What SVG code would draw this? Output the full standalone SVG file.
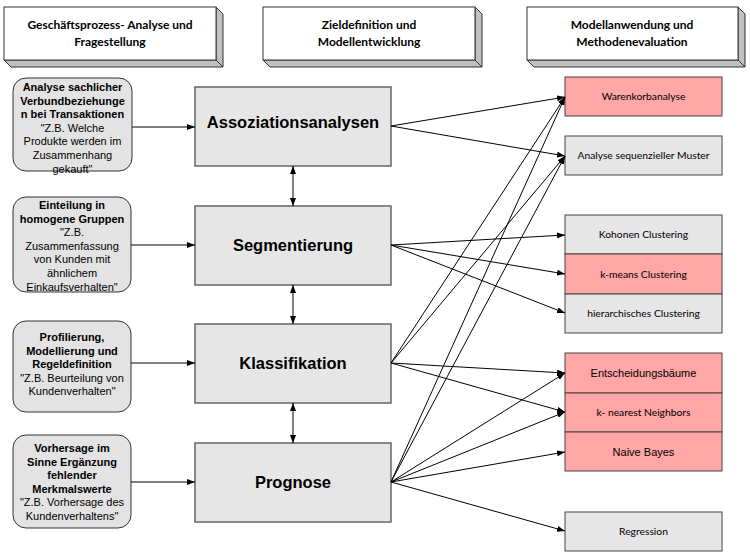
<svg xmlns="http://www.w3.org/2000/svg" width="750" height="558" viewBox="0 0 750 558">
<defs>
<marker id="ah" markerWidth="8" markerHeight="6" refX="8" refY="3" orient="auto-start-reverse" markerUnits="userSpaceOnUse">
<path d="M0,0 L8,3 L0,6 z" fill="#000"/>
</marker>
<style>
.hf{fill:#fff;stroke:#333;stroke-width:1}
.hs{fill:#c0c0c0;stroke:#333;stroke-width:1}
.ht{font-family:Lato,"Liberation Sans",sans-serif;font-weight:bold;font-size:12px;fill:#000;text-anchor:middle}
.lb{fill:#e3e3e3;stroke:#333;stroke-width:1}
.lt{font-family:"Liberation Sans",Arial,sans-serif;font-size:11px;fill:#000;text-anchor:middle}
.b{font-weight:bold}
.mb{fill:#e6e6e6;stroke:#666;stroke-width:1.5}
.mt{font-family:"Liberation Sans",Arial,sans-serif;font-weight:bold;font-size:16.5px;fill:#000;text-anchor:middle}
.rg{fill:#e6e6e6;stroke:#444;stroke-width:1}
.rp{fill:#ffa6a6;stroke:#444;stroke-width:1}
.rt{font-family:Lato,"Liberation Sans",sans-serif;font-size:10.3px;fill:#000;text-anchor:middle}
.ra{font-family:"Liberation Sans",Arial,sans-serif;font-size:11px;fill:#000;text-anchor:middle}
.c{stroke:#000;stroke-width:1;fill:none;marker-end:url(#ah)}
.d{stroke:#000;stroke-width:1;fill:none;marker-end:url(#ah);marker-start:url(#ah)}
</style>
</defs>
<rect width="750" height="558" fill="#fff"/>

<g id="header1">
<polygon class="hs" points="216,7 223,14 223,67 216,60"/>
<polygon class="hs" points="4,60 216,60 223,67 11,67"/>
<rect class="hf" x="4" y="7" width="212" height="53"/>
<text class="ht" x="110" y="29">Geschäftsprozess- Analyse und</text>
<text class="ht" x="110" y="46">Fragestellung</text>
</g>
<g id="header2">
<polygon class="hs" points="475,7 482,14 482,67 475,60"/>
<polygon class="hs" points="263,60 475,60 482,67 270,67"/>
<rect class="hf" x="263" y="7" width="212" height="53"/>
<text class="ht" x="369" y="29">Zieldefinition und</text>
<text class="ht" x="369" y="46">Modellentwicklung</text>
</g>
<g id="header3">
<polygon class="hs" points="738,7 745,14 745,67 738,60"/>
<polygon class="hs" points="527,60 738,60 745,67 534,67"/>
<rect class="hf" x="527" y="7" width="211" height="53"/>
<text class="ht" x="632" y="29">Modellanwendung und</text>
<text class="ht" x="632" y="46">Methodenevaluation</text>
</g>

<g id="left1">
<rect class="lb" x="13" y="78" width="119" height="93" rx="13"/>
<text class="lt" x="72.5" y="91"><tspan class="b">Analyse sachlicher</tspan><tspan class="b" x="72.5" dy="13.6">Verbundbeziehunge</tspan><tspan class="b" x="72.5" dy="13.6">n bei Transaktionen</tspan><tspan x="72.5" dy="13.6">"Z.B. Welche</tspan><tspan x="72.5" dy="13.6">Produkte werden im</tspan><tspan x="72.5" dy="13.6">Zusammenhang</tspan><tspan x="72.5" dy="13.6">gekauft"</tspan></text>
</g>
<g id="left2">
<rect class="lb" x="13" y="197" width="118" height="95" rx="13"/>
<text class="lt" x="72" y="209"><tspan class="b">Einteilung in</tspan><tspan class="b" x="72" dy="13.6">homogene Gruppen</tspan><tspan x="72" dy="13.6">"Z.B.</tspan><tspan x="72" dy="13.6">Zusammenfassung</tspan><tspan x="72" dy="13.6">von Kunden mit</tspan><tspan x="72" dy="13.6">ähnlichem</tspan><tspan x="72" dy="13.6">Einkaufsverhalten"</tspan></text>
</g>
<g id="left3">
<rect class="lb" x="13" y="321" width="118" height="91" rx="13"/>
<text class="lt" x="72" y="341"><tspan class="b">Profilierung,</tspan><tspan class="b" x="72" dy="13.6">Modellierung und</tspan><tspan class="b" x="72" dy="13.6">Regeldefinition</tspan><tspan x="72" dy="13.6">"Z.B. Beurteilung von</tspan><tspan x="72" dy="13.6">Kundenverhalten"</tspan></text>
</g>
<g id="left4">
<rect class="lb" x="13" y="435" width="118" height="93" rx="13"/>
<text class="lt" x="72" y="452"><tspan class="b">Vorhersage im</tspan><tspan class="b" x="72" dy="13.6">Sinne Ergänzung</tspan><tspan class="b" x="72" dy="13.6">fehlender</tspan><tspan class="b" x="72" dy="13.6">Merkmalswerte</tspan><tspan x="72" dy="13.6">"Z.B. Vorhersage des</tspan><tspan x="72" dy="13.6">Kundenverhaltens"</tspan></text>
</g>

<g id="assoziationsanalysen">
<rect class="mb" x="195" y="87" width="196" height="79"/>
<text class="mt" x="293" y="128">Assoziationsanalysen</text>
</g>
<g id="segmentierung">
<rect class="mb" x="195" y="206" width="196" height="79"/>
<text class="mt" x="293" y="251">Segmentierung</text>
</g>
<g id="klassifikation">
<rect class="mb" x="195" y="324" width="196" height="79"/>
<text class="mt" x="293" y="369">Klassifikation</text>
</g>
<g id="prognose">
<rect class="mb" x="195" y="443" width="196" height="79"/>
<text class="mt" x="293" y="488">Prognose</text>
</g>

<g id="warenkorbanalyse">
<rect class="rp" x="565" y="77" width="157" height="39"/>
<text class="rt" x="643.5" y="100">Warenkorbanalyse</text>
</g>
<g id="sequenz">
<rect class="rg" x="565" y="136" width="157" height="39"/>
<text class="rt" x="643.5" y="159">Analyse sequenzieller Muster</text>
</g>
<g id="kohonen">
<rect class="rg" x="565" y="215" width="157" height="39"/>
<text class="rt" x="643.5" y="238">Kohonen Clustering</text>
</g>
<g id="kmeans">
<rect class="rp" x="565" y="254" width="157" height="40"/>
<text class="rt" x="643.5" y="278">k-means Clustering</text>
</g>
<g id="hierarchisch">
<rect class="rg" x="565" y="294" width="157" height="39"/>
<text class="rt" x="643.5" y="317">hierarchisches Clustering</text>
</g>
<g id="entscheidungsbaeume">
<rect class="rp" x="565" y="353" width="157" height="40"/>
<text class="ra" x="643.5" y="377">Entscheidungsbäume</text>
</g>
<g id="knn">
<rect class="rp" x="565" y="393" width="157" height="39"/>
<text class="rt" x="643.5" y="416">k- nearest Neighbors</text>
</g>
<g id="naivebayes">
<rect class="rp" x="565" y="432" width="157" height="39"/>
<text class="ra" x="643.5" y="456">Naive Bayes</text>
</g>
<g id="regression">
<rect class="rg" x="565" y="512" width="157" height="39"/>
<text class="rt" x="643.5" y="535">Regression</text>
</g>

<g id="connectors">
<line class="c" x1="132" y1="127" x2="195" y2="127"/>
<line class="c" x1="131" y1="245" x2="195" y2="245"/>
<line class="c" x1="131" y1="363" x2="195" y2="363"/>
<line class="c" x1="131" y1="482" x2="195" y2="482"/>
<line class="d" x1="293" y1="166" x2="293" y2="206"/>
<line class="d" x1="293" y1="285" x2="293" y2="324"/>
<line class="d" x1="293" y1="403" x2="293" y2="443"/>
<line class="c" x1="391" y1="126" x2="565" y2="97"/>
<line class="c" x1="391" y1="126" x2="565" y2="156"/>
<line class="c" x1="391" y1="245" x2="565" y2="235"/>
<line class="c" x1="391" y1="245" x2="565" y2="274"/>
<line class="c" x1="391" y1="245" x2="565" y2="313"/>
<line class="c" x1="391" y1="363" x2="565" y2="373"/>
<line class="c" x1="391" y1="363" x2="565" y2="412"/>
<line class="c" x1="391" y1="363" x2="565" y2="97"/>
<line class="c" x1="391" y1="363" x2="565" y2="156"/>
<line class="c" x1="391" y1="482" x2="565" y2="373"/>
<line class="c" x1="391" y1="482" x2="565" y2="412"/>
<line class="c" x1="391" y1="482" x2="565" y2="452"/>
<line class="c" x1="391" y1="482" x2="565" y2="531"/>
<line class="c" x1="391" y1="482" x2="565" y2="97"/>
<line class="c" x1="391" y1="482" x2="565" y2="156"/>
</g>
</svg>
